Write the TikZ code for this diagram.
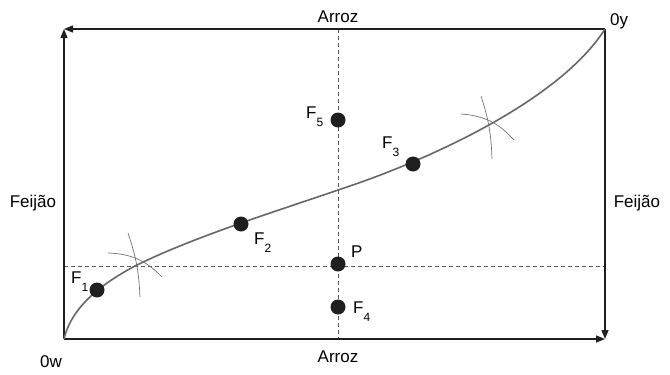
\documentclass[tikz,border=0pt]{standalone}
\usepackage{fontspec}
\setmainfont{Liberation Sans}
\usetikzlibrary{arrows.meta}
\begin{document}
\begin{tikzpicture}[x=1pt,y=-1pt,
  axis/.style={line width=1.4pt,draw=black!88,-{Triangle[length=9pt,width=7pt]}},
  guide/.style={line width=0.8pt,draw=black!65,dash pattern=on 4pt off 3pt},
  curve/.style={line width=1.6pt,draw=black!60},
  arcmark/.style={line width=0.7pt,draw=black!55},
  dot/.style={circle,fill=black!88,inner sep=0pt,minimum size=15pt},
  lab/.style={inner sep=0pt,font=\fontsize{17}{20}\selectfont}]
\useasboundingbox (0,0) rectangle (670,375);
\newcommand{\subs}[1]{\raisebox{-8pt}{\fontsize{12}{12}\selectfont #1}}
% corners
\coordinate (O) at (64,339);
\coordinate (Y) at (605,29);
\coordinate (TL) at (64,29);
\coordinate (BR) at (605,339);
% guides
\coordinate (VT) at (338,29);
\coordinate (VB) at (338,339);
\coordinate (HL) at (64,266);
\coordinate (HR) at (605,266);
\draw[guide] (VT) -- (VB);
\draw[guide] (HL) -- (HR);
% axes
\draw[axis] (O) -- (TL);
\draw[axis] (Y) -- (TL);
\draw[axis] (Y) -- (BR);
\draw[axis] (O) -- (BR);
% curve
\coordinate (X1) at (135,266);
\coordinate (C1) at (338,190);
\coordinate (k1) at (72,305);
\coordinate (k2) at (105,282);
\coordinate (k3) at (195,236);
\coordinate (k4) at (288,207.5);
\coordinate (k5) at (430,160);
\coordinate (k6) at (560,100);
\draw[curve] (O) .. controls (k1) and (k2) .. (X1)
  .. controls (k3) and (k4) .. (C1) .. controls (k5) and (k6) .. (Y);
% dots
\node[dot] (F1) at (97,290) {};
\node[dot] (F2) at (241,224) {};
\node[dot] (F3) at (413,164) {};
\node[dot] (F5) at (338,120) {};
\node[dot] (P) at (338,264) {};
\node[dot] (F4) at (338,307) {};
% compass arcs
\coordinate (a1s) at (108,253); \coordinate (a1e) at (162,277);
\coordinate (a2s) at (128,233); \coordinate (a2e) at (140,297);
\coordinate (b1s) at (461,114); \coordinate (b1e) at (514,140);
\coordinate (b2s) at (481,96);  \coordinate (b2e) at (492,159);
\draw[arcmark] (a1s) to[bend left=22] (a1e);
\draw[arcmark] (a2s) to[bend left=8] (a2e);
\draw[arcmark] (b1s) to[bend left=22] (b1e);
\draw[arcmark] (b2s) to[bend left=8] (b2e);
% labels
\node[lab,anchor=base] (arrozT) at (338,22) {Arroz};
\node[lab,anchor=base] (arrozB) at (338,362) {Arroz};
\node[lab,anchor=base] (feijL) at (33,207) {Feijão};
\node[lab,anchor=base] (feijR) at (637,207) {Feijão};
\node[lab,anchor=base west] (l0y) at (610,25) {0y};
\node[lab,anchor=base west] (l0w) at (40,367) {0w};
\node[lab,anchor=base west] (lF1) at (71,283) {F\subs{1}};
\node[lab,anchor=base west] (lF5) at (306,118) {F\subs{5}};
\node[lab,anchor=base west] (lF3) at (382,148) {F\subs{3}};
\node[lab,anchor=base west] (lF2) at (254,244) {F\subs{2}};
\node[lab,anchor=base west] (lP) at (351,257) {P};
\node[lab,anchor=base west] (lF4) at (353,313) {F\subs{4}};
\end{tikzpicture}
\end{document}
